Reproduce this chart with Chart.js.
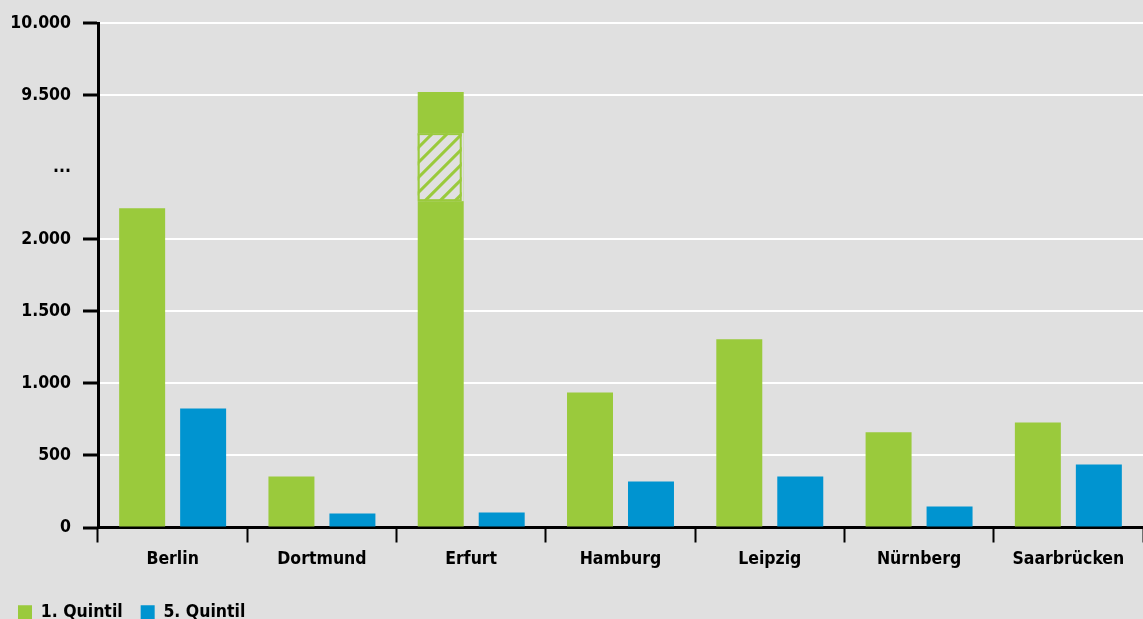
<!DOCTYPE html>
<html>
<head>
<meta charset="utf-8">
<script src="https://cdn.jsdelivr.net/npm/chart.js@4"></script>
<style>
  html, body { margin: 0; padding: 0; background: #e0e0e0; }
  #wrap { width: 1143px; height: 619px; position: relative; }
</style>
</head>
<body>
<div id="wrap"><canvas id="chart"></canvas></div>
<script>
const cities = ['Berlin', 'Dortmund', 'Erfurt', 'Hamburg', 'Leipzig', 'Nürnberg', 'Saarbrücken']
const quintil1 = [2215, 354, 9521, 937, 1306, 660, 729]
const quintil5 = [826, 97, 104, 319, 354, 146, 437]
const seriesNames = ['1. Quintil', '5. Quintil']
// axis positions (0..3500) and the labels shown there; 2500 marks the break
const tickPositions = [0, 500, 1000, 1500, 2000, 2500, 3000, 3500]
const tickLabels = ['0', '500', '1.000', '1.500', '2.000', '...', '9.500', '10.000']

const GREEN = '#9aca3c'
const BLUE = '#0094d0'
const BG = '#e0e0e0'
const FONT = "'DejaVu Sans Condensed', 'Liberation Sans Narrow', sans-serif"

// values above the break are shifted down so 9.500 sits at 3000
const BREAK_SHIFT = 6500
function toAxis(v){
    return v > 2500 ? v - BREAK_SHIFT : v
}

Chart.defaults.font.family = FONT
Chart.defaults.font.weight = 'bold'
Chart.defaults.font.size = 17.5
Chart.defaults.color = '#000'
Chart.defaults.animation = false

// hatched box drawn over bars that cross the break
const breakHatch = {
    id: 'breakHatch',
    afterDatasetsDraw(chart){
        const ctx = chart.ctx
        const y = chart.scales.y
        const meta = chart.getDatasetMeta(0)
        quintil1.forEach((v, i) => {
            if (v <= 2500) return
            const bar = meta.data[i]
            const left = bar.x - bar.width / 2
            const w = bar.width - 2
            const top = y.getPixelForValue(2736)
            const bottom = y.getPixelForValue(2264)
            const h = bottom - top
            ctx.save()
            ctx.fillStyle = BG
            ctx.fillRect(left, top, bar.width, h)
            ctx.beginPath()
            ctx.rect(left, top, w, h)
            ctx.clip()
            ctx.strokeStyle = GREEN
            ctx.lineWidth = 3
            for (let k = -h; k < w + h; k += 15){
                ctx.beginPath()
                ctx.moveTo(left + k, bottom)
                ctx.lineTo(left + k + h, top)
                ctx.stroke()
            }
            ctx.restore()
            ctx.save()
            ctx.strokeStyle = GREEN
            ctx.lineWidth = 2
            ctx.strokeRect(left + 1, top + 1, w - 2, h - 2)
            ctx.restore()
        })
    }
}

new Chart(document.getElementById('chart'), {
    type: 'bar',
    data: {
        labels: cities,
        datasets: [
            { label: seriesNames[0], data: quintil1.map(toAxis), backgroundColor: GREEN },
            { label: seriesNames[1], data: quintil5.map(toAxis), backgroundColor: BLUE }
        ]
    },
    options: {
        responsive: true,
        maintainAspectRatio: false,
        categoryPercentage: 0.817,
        barPercentage: 0.754,
        layout: { padding: { top: 23, right: 0, left: 0, bottom: -12 } },
        scales: {
            y: {
                min: 0,
                max: 3500,
                afterBuildTicks: scale => {
                    scale.ticks = tickPositions.map(v => ({ value: v }))
                },
                afterFit: scale => { scale.width = 98 },
                border: { color: '#000', width: 3 },
                grid: {
                    color: c => c.tick && c.tick.value === 2500 ? 'rgba(0,0,0,0)' : '#ffffff',
                    lineWidth: 2,
                    tickColor: c => c.tick && c.tick.value === 2500 ? 'rgba(0,0,0,0)' : '#000',
                    tickWidth: 3,
                    tickLength: 15
                },
                ticks: {
                    padding: 12,
                    callback: value => tickLabels[tickPositions.indexOf(value)]
                }
            },
            x: {
                afterFit: scale => { scale.height = 58 },
                border: { color: '#000', width: 3 },
                grid: {
                    offset: true,
                    drawOnChartArea: false,
                    tickColor: '#000',
                    tickWidth: 2,
                    tickLength: 15
                },
                ticks: {
                    padding: 6
                }
            }
        },
        plugins: {
            tooltip: { enabled: false },
            legend: {
                position: 'bottom',
                align: 'start',
                labels: {
                    boxWidth: 14,
                    boxHeight: 14,
                    padding: 18
                }
            }
        }
    },
    plugins: [breakHatch]
})
</script>
</body>
</html>
